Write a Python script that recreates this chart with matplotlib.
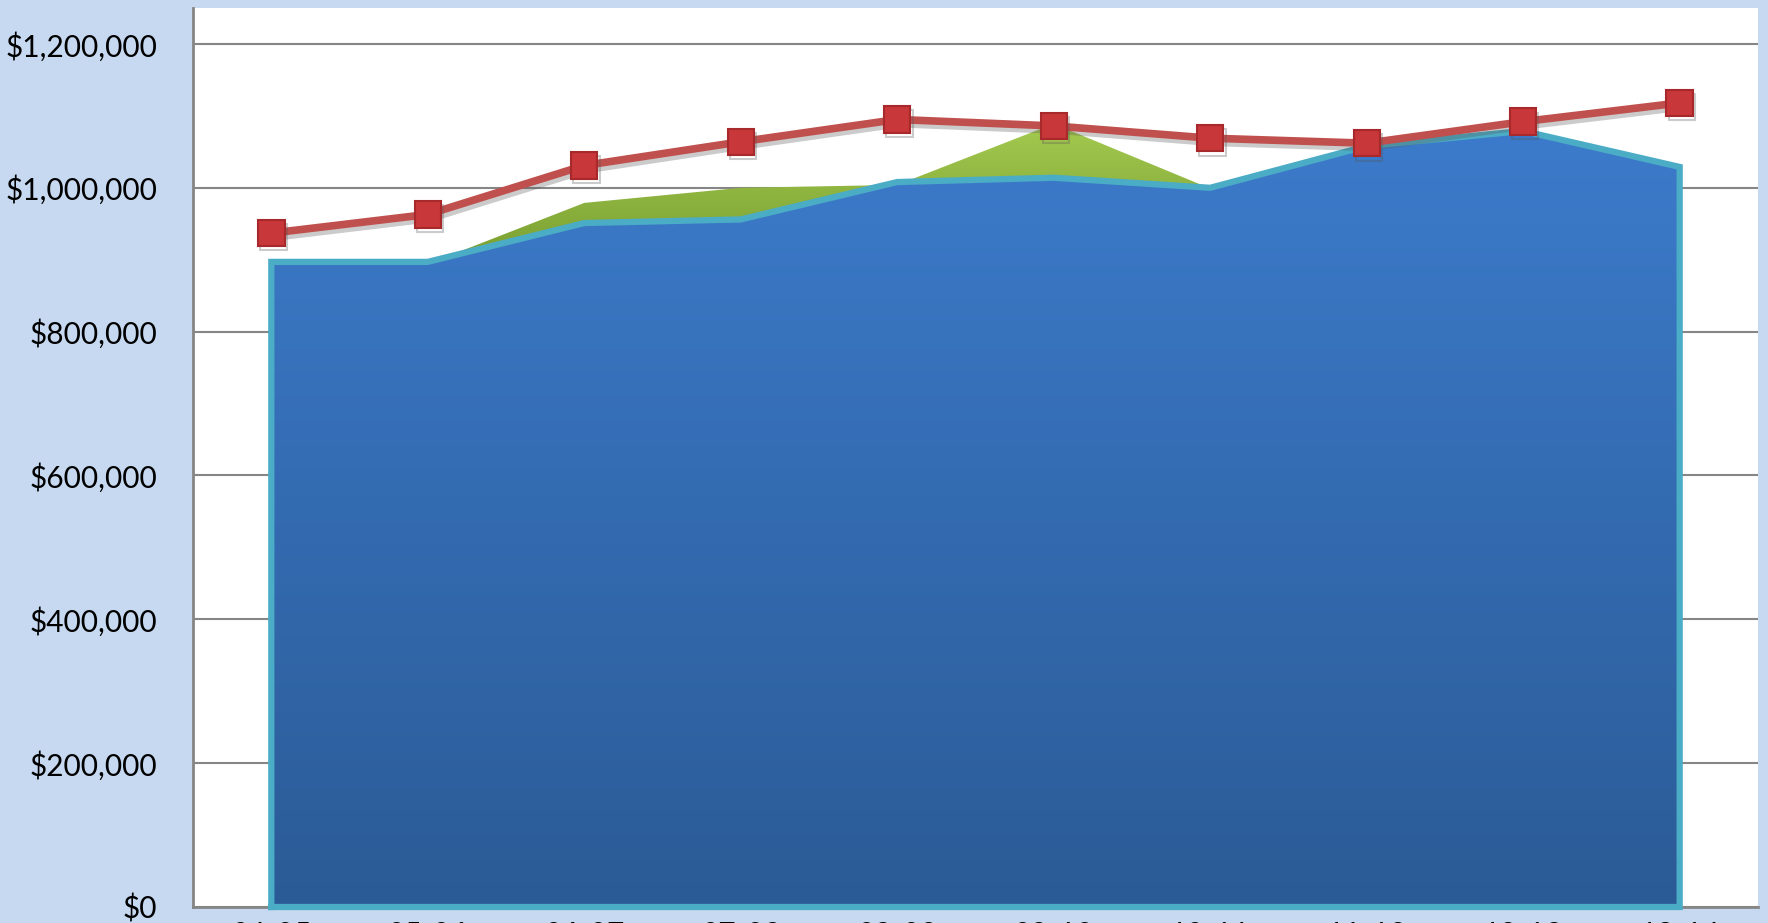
import matplotlib
matplotlib.use("Agg")
import matplotlib.pyplot as plt
import matplotlib.patheffects as pe
import numpy as np
from matplotlib.colors import LinearSegmentedColormap
from matplotlib.ticker import FuncFormatter

# ---------------------------------------------------------------------------
# Data
# ---------------------------------------------------------------------------
YEARS = ["04-05", "05-06", "06-07", "07-08", "08-09",
         "09-10", "10-11", "11-12", "12-13", "13-14"]
BLUE_AREA = [897000, 897000, 951000, 956000, 1008000,
             1014000, 1000000, 1058000, 1079000, 1029000]
GREEN_AREA = [890000, 894000, 979000, 1000000, 1004000,
              1089000, 999000, 1050000, 1070000, 1020000]
RED_LINE = [937000, 963000, 1031000, 1064000, 1095000,
            1086000, 1069000, 1062000, 1092000, 1118000]
Y_TICKS = [0, 200000, 400000, 600000, 800000, 1000000, 1200000]

BG = "#c6d9f0"
FONT = "Lato"


def gradient_fill(ax, x, y, c_top, c_bot, y_top, y_bot, zorder):
    """Fill under (x, y) with a vertical colour gradient."""
    poly = ax.fill_between(x, 0, y, facecolor="none", edgecolor="none",
                           zorder=zorder)
    cmap = LinearSegmentedColormap.from_list("g", [c_bot, c_top])
    grad = np.linspace(0, 1, 256).reshape(-1, 1)
    im = ax.imshow(grad, cmap=cmap, aspect="auto", origin="lower",
                   extent=[x[0], x[-1], y_bot, y_top], zorder=zorder)
    im.set_clip_path(poly.get_paths()[0], transform=ax.transData)
    return im


fig = plt.figure(figsize=(17.68, 9.23), dpi=100, facecolor=BG)
ax = fig.add_axes([0.1092, 0.01734, 0.8851, 0.974])
ax.set_facecolor("white")

x = np.arange(len(YEARS))
ymax = 1250000

# green area (behind)
gradient_fill(ax, x, GREEN_AREA, "#a6cc52", "#6f9428", 1100000, 850000, 1)

# blue area with gradient
blue_top = max(BLUE_AREA)
gradient_fill(ax, x, BLUE_AREA, "#3c7bcb", "#2b5b96", blue_top, 0, 2)

# cyan outline around blue area
ox = np.concatenate([[x[0]], x, [x[-1], x[0]]])
oy = np.concatenate([[0], BLUE_AREA, [0, 0]])
ax.plot(ox, oy, color="#4bacc6", lw=4.5, solid_joinstyle="miter",
        zorder=3, clip_on=False)

# red line with square markers and a soft shadow
ax.plot(x, RED_LINE, color="#c0504d", lw=5.5, marker="s", markersize=19,
        markerfacecolor="#c8373a", markeredgecolor="#a8292c",
        markeredgewidth=1.5, zorder=5,
        path_effects=[pe.SimpleLineShadow(offset=(1.5, -3), alpha=0.3,
                                          shadow_color="#555555"),
                      pe.Normal()])

ax.set_xlim(-0.5, len(YEARS) - 0.5)
ax.set_ylim(0, ymax)
ax.set_yticks(Y_TICKS)
ax.yaxis.set_major_formatter(FuncFormatter(lambda v, _: f"${v:,.0f}"))
ax.set_xticks(x)
ax.set_xticklabels(YEARS)

ax.grid(axis="y", color="#868686", lw=1.5)
ax.set_axisbelow(True)
for side in ("top", "right"):
    ax.spines[side].set_visible(False)
for side in ("left", "bottom"):
    ax.spines[side].set_color("#868686")
    ax.spines[side].set_linewidth(2)

ax.tick_params(axis="y", length=0, pad=26, labelsize=21.5)
ax.tick_params(axis="x", length=0, pad=10, labelsize=21.5)
for lbl in ax.get_xticklabels() + ax.get_yticklabels():
    lbl.set_fontfamily(FONT)
    lbl.set_color("black")

fig.savefig("out.png", dpi=100, facecolor=BG)
